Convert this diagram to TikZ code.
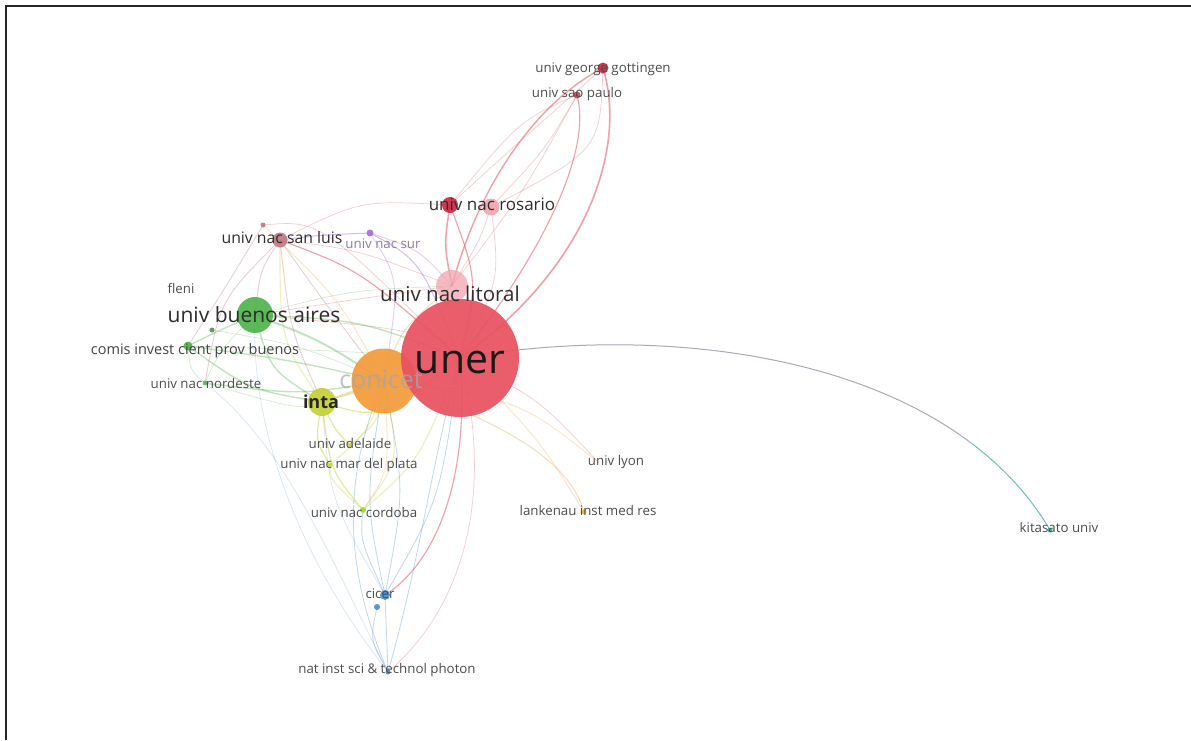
\documentclass[tikz,border=0pt]{standalone}
\usepackage{fontspec}
\setmainfont{Open Sans}
\definecolor{cred}{RGB}{232,82,95}
\definecolor{cdred}{RGB}{205,35,60}
\definecolor{cpink}{RGB}{242,165,175}
\definecolor{cgreen}{RGB}{76,178,72}
\definecolor{cyel}{RGB}{196,208,50}
\definecolor{corange}{RGB}{244,155,58}
\definecolor{cblue}{RGB}{70,140,210}
\definecolor{cpurple}{RGB}{165,110,215}
\definecolor{cteal}{RGB}{60,170,160}
\definecolor{cgray}{RGB}{150,145,170}
\definecolor{cbrown}{RGB}{190,120,130}
\definecolor{labc}{RGB}{45,45,45}
\tikzset{
  lbl/.style={anchor=base, inner sep=0pt, text=labc},
  small/.style={lbl, font=\fontsize{13.3}{14}\selectfont, text=labc!85},
  dot/.style={circle, inner sep=0pt, draw=none},
  ered/.style={draw=cred, draw opacity=0.55, line width=1.1pt},
  ered2/.style={draw=cred, draw opacity=0.3, line width=0.7pt},
  egreen/.style={draw=cgreen, draw opacity=0.35, line width=1.4pt},
  egreen2/.style={draw=cgreen, draw opacity=0.25, line width=0.7pt},
  eyel/.style={draw=cyel, draw opacity=0.45, line width=1.2pt},
  eorange/.style={draw=corange, draw opacity=0.35, line width=1pt},
  eblue/.style={draw=cblue, draw opacity=0.35, line width=0.8pt},
  epurple/.style={draw=cpurple, draw opacity=0.45, line width=1pt},
  ebrown/.style={draw=cbrown, draw opacity=0.35, line width=0.9pt},
}
\begin{document}
\begin{tikzpicture}[x=1pt,y=-1pt]
\useasboundingbox (0,0) rectangle (1191,740);
\fill[white] (0,0) rectangle (1191,740);
% frame
\draw[line width=2pt, black!85] (6,740) -- (6,6) -- (1191,6);

% coordinates
\coordinate (uner) at (460,358);
\coordinate (conicet) at (384,381);
\coordinate (litoral) at (452,286);
\coordinate (ba) at (255,315);
\coordinate (inta) at (322,402);
\coordinate (rosA) at (450,205);
\coordinate (rosB) at (491,207);
\coordinate (sanluis) at (280,240);
\coordinate (sanluisb) at (263,225);
\coordinate (nacsur) at (370,233);
\coordinate (gott) at (603,68);
\coordinate (sao) at (577,95);
\coordinate (comis) at (188,346);
\coordinate (comisb) at (212,330);
\coordinate (nordeste) at (205,383);
\coordinate (adelaide) at (350,445);
\coordinate (mdp) at (330,465);
\coordinate (cordoba) at (363,510);
\coordinate (cicer) at (385,595);
\coordinate (cicerb) at (377,607);
\coordinate (natinst) at (388,672);
\coordinate (lyon) at (598,462);
\coordinate (lankenau) at (584,512);
\coordinate (kitasato) at (1050,530);
\coordinate (kitmid) at (971.4,443.2);

% ---- edges ----
% kitasato (gray part, then teal end along the same curve)
\draw[draw=cgray, draw opacity=0.8, line width=1pt] (uner) .. controls (636,327.6) and (844,347.1) .. (kitmid);
\draw[draw=cteal, draw opacity=0.75, line width=1pt] (kitmid) .. controls (1003.2,467.2) and (1030,496) .. (kitasato);
% red cluster
\draw[ered, line width=1.6pt] (uner) .. controls (585,270) and (628,150) .. (gott);
\draw[ered] (uner) .. controls (545,250) and (592,150) .. (sao);
\draw[ered, line width=1.4pt] (litoral) .. controls (480,180) and (540,100) .. (gott);
\draw[ered2] (rosA) .. controls (510,150) .. (gott);
\draw[ered2] (litoral) .. controls (525,190) .. (sao);
\draw[ered2] (rosB) .. controls (545,150) .. (sao);
\draw[ered2] (rosA) .. controls (520,120) .. (sao);
\draw[ered2] (rosB) .. controls (600,150) .. (gott);
\draw[ered, line width=1.5pt] (litoral) .. controls (444,245) .. (rosA);
\draw[ered] (uner) .. controls (478,280) .. (rosA);
\draw[ered2] (uner) .. controls (500,280) .. (rosB);
\draw[ered2] (litoral) .. controls (480,240) .. (rosB);
\draw[ered] (uner) .. controls (360,270) .. (sanluis);
\draw[ered2] (sanluis) .. controls (360,200) .. (rosA);
\draw[ered2] (litoral) .. controls (360,250) .. (sanluis);
\draw[ered2] (sanluisb) .. controls (320,220) .. (uner);
\draw[ered] (uner) .. controls (470,470) and (440,560) .. (cicer);
\draw[ered2] (uner) .. controls (492,480) and (472,600) .. (natinst);
\draw[ered2] (uner) .. controls (540,400) .. (lyon);
\draw[ered2] (uner) .. controls (420,330) .. (ba);
\draw[ered2] (litoral) .. controls (350,300) .. (ba);
\draw[ered2] (uner) .. controls (400,380) .. (inta);
% purple
\draw[epurple] (nacsur) .. controls (420,260) .. (uner);
\draw[epurple] (nacsur) .. controls (320,235) .. (sanluis);
\draw[epurple, draw opacity=0.3] (nacsur) .. controls (400,280) .. (conicet);
\draw[epurple, draw opacity=0.3] (nacsur) .. controls (420,250) .. (litoral);
% brown (san luis)
\draw[ebrown] (sanluis) .. controls (260,270) .. (ba);
\draw[ebrown] (sanluis) .. controls (330,310) .. (conicet);
\draw[ebrown] (sanluis) .. controls (290,330) .. (inta);
\draw[ebrown] (sanluisb) .. controls (230,280) .. (comis);
\draw[ebrown] (sanluis) .. controls (220,300) .. (nordeste);
% green
\draw[egreen, line width=2pt] (ba) .. controls (320,340) .. (conicet);
\draw[egreen] (ba) .. controls (360,320) .. (uner);
\draw[egreen] (ba) .. controls (270,370) .. (inta);
\draw[egreen] (ba) .. controls (220,330) .. (comis);
\draw[egreen2] (ba) .. controls (220,350) .. (nordeste);
\draw[egreen] (comis) .. controls (290,360) .. (conicet);
\draw[egreen2] (comis) .. controls (320,350) .. (uner);
\draw[egreen] (comis) .. controls (250,390) .. (inta);
\draw[egreen2] (comisb) .. controls (300,345) .. (conicet);
\draw[egreen] (nordeste) .. controls (300,395) .. (conicet);
\draw[egreen2] (nordeste) .. controls (300,410) .. (inta);
\draw[egreen2] (comis) .. controls (190,370) .. (nordeste);
\draw[egreen2] (ba) .. controls (350,290) .. (litoral);
% yellow
\draw[eyel, line width=2pt] (inta) -- (conicet);
\draw[eyel] (inta) .. controls (380,420) .. (uner);
\draw[eyel] (inta) .. controls (330,470) .. (cordoba);
\draw[eyel] (inta) .. controls (335,430) .. (adelaide);
\draw[eyel] (inta) .. controls (315,440) .. (mdp);
\draw[eyel, draw opacity=0.3] (cordoba) .. controls (400,460) .. (conicet);
\draw[eyel, draw opacity=0.3] (mdp) .. controls (370,430) .. (conicet);
\draw[eyel, draw opacity=0.3] (adelaide) .. controls (380,420) .. (conicet);
\draw[eyel, draw opacity=0.3] (cordoba) .. controls (330,480) .. (mdp);
\draw[eyel, draw opacity=0.3] (cordoba) .. controls (420,460) .. (uner);
\draw[eyel, draw opacity=0.3] (inta) .. controls (280,340) .. (sanluis);
% orange
\draw[eorange] (conicet) .. controls (500,420) and (570,460) .. (lankenau);
\draw[eorange, draw opacity=0.25] (conicet) .. controls (520,400) .. (lyon);
\draw[eorange] (conicet) .. controls (400,330) .. (litoral);
\draw[eorange, draw opacity=0.25] (conicet) .. controls (340,300) .. (sanluisb);
\draw[eorange, draw opacity=0.25] (conicet) .. controls (390,470) .. (cordoba);
\draw[eorange, draw opacity=0.25] (uner) .. controls (540,440) .. (lankenau);
% blue
\draw[eblue] (cicer) -- (natinst);
\draw[eblue] (cicerb) .. controls (370,640) .. (natinst);
\draw[eblue] (cicer) .. controls (365,500) .. (conicet);
\draw[eblue] (cicer) .. controls (405,490) .. (conicet);
\draw[eblue] (cicer) .. controls (440,500) .. (uner);
\draw[eblue] (cicer) .. controls (360,540) .. (cordoba);
\draw[eblue] (natinst) .. controls (340,560) and (345,470) .. (conicet);
\draw[eblue] (natinst) .. controls (420,560) and (430,470) .. (uner);
\draw[eblue, draw opacity=0.2] (natinst) .. controls (300,560) and (250,430) .. (ba);
\draw[eblue, draw opacity=0.2] (natinst) .. controls (330,560) and (290,450) .. (nordeste);
\draw[eblue, draw opacity=0.2] (cicer) .. controls (330,500) .. (inta);

% ---- nodes ----
\node[dot, fill=cpink, fill opacity=0.75, minimum size=32pt] (litoralN) at (litoral) {};
\node[dot, fill=corange, fill opacity=0.92, minimum size=65pt] (conicetN) at (conicet) {};
\node[dot, fill=cred, fill opacity=0.93, minimum size=118pt] (unerN) at (uner) {};
\node[dot, fill=cgreen, fill opacity=0.9, minimum size=36pt] (baN) at (ba) {};
\node[dot, fill=cyel, fill opacity=0.9, minimum size=28pt] (intaN) at (inta) {};
\node[dot, fill=cdred, fill opacity=0.9, minimum size=16pt] (rosAN) at (rosA) {};
\node[dot, fill=cpink, fill opacity=0.9, minimum size=17pt] (rosBN) at (rosB) {};
\node[dot, fill=cbrown, fill opacity=0.9, minimum size=15pt] (sanluisN) at (sanluis) {};
\node[dot, fill=cbrown, fill opacity=0.9, minimum size=5pt] (sanluisbN) at (sanluisb) {};
\node[dot, fill=cpurple, fill opacity=0.9, minimum size=7pt] (nacsurN) at (nacsur) {};
\node[dot, fill=cdred, fill opacity=0.9, minimum size=11pt] (gottN) at (gott) {};
\node[dot, fill=cdred, fill opacity=0.8, minimum size=7pt] (saoN) at (sao) {};
\node[dot, fill=cgreen, fill opacity=0.9, minimum size=9pt] (comisN) at (comis) {};
\node[dot, fill=cgreen!60!black, fill opacity=0.7, minimum size=5pt] (comisbN) at (comisb) {};
\node[dot, fill=cgreen, fill opacity=0.8, minimum size=5pt] (nordesteN) at (nordeste) {};
\node[dot, fill=cyel, fill opacity=0.8, minimum size=5pt] (adelaideN) at (adelaide) {};
\node[dot, fill=cyel, fill opacity=0.8, minimum size=5pt] (mdpN) at (mdp) {};
\node[dot, fill=cyel!80!green, fill opacity=0.9, minimum size=6pt] (cordobaN) at (cordoba) {};
\node[dot, fill=cblue, fill opacity=0.9, minimum size=10pt] (cicerN) at (cicer) {};
\node[dot, fill=cblue, fill opacity=0.9, minimum size=6pt] (cicerbN) at (cicerb) {};
\node[dot, fill=cblue, fill opacity=0.9, minimum size=5pt] (natinstN) at (natinst) {};
\node[dot, fill=corange!80!yellow, fill opacity=0.9, minimum size=5pt] (lankenauN) at (lankenau) {};
\node[dot, fill=cteal, fill opacity=0.9, minimum size=5pt] (kitasatoN) at (kitasato) {};

% ---- labels ----
\node[lbl, font=\fontsize{25}{26}\selectfont, text=cblue!30!gray!70, text opacity=0.7] (conicetL) at (381,388) {conicet};
\node[lbl, font=\fontsize{41}{42}\selectfont, text=black!90] (unerL) at (460,373) {uner};
\node[lbl, font=\fontsize{20.5}{21}\selectfont] (litoralL) at (450,301) {univ nac litoral};
\node[lbl, font=\fontsize{21}{22}\selectfont] (baL) at (254,322) {univ buenos aires};
\node[lbl, font=\fontsize{18}{19}\selectfont\bfseries, text=black!85] (intaL) at (321,408) {inta};
\node[lbl, font=\fontsize{17}{18}\selectfont] (rosL) at (492,210) {univ nac rosario};
\node[lbl, font=\fontsize{15.8}{17}\selectfont] (sanluisL) at (282,243) {univ nac san luis};
\node[small, text=cpurple!40!gray] (nacsurL) at (383,248) {univ nac sur};
\node[small] (fleniL) at (181,293) {fleni};
\node[lbl, font=\fontsize{14.5}{15}\selectfont, text=labc!90] (comisL) at (195,354) {comis invest cient prov buenos};
\node[small] (nordesteL) at (206,388) {univ nac nordeste};
\node[small] (adelaideL) at (350,448) {univ adelaide};
\node[small] (mdpL) at (349,468) {univ nac mar del plata};
\node[small] (cordobaL) at (364,517) {univ nac cordoba};
\node[small] (gottL) at (603,72) {univ george gottingen};
\node[small] (saoL) at (577,97) {univ sao paulo};
\node[small] (cicerL) at (380,598) {cicer};
\node[small] (natinstL) at (387,673) {nat inst sci \& technol photon};
\node[small] (lyonL) at (616,465) {univ lyon};
\node[small] (lankenauL) at (588,515) {lankenau inst med res};
\node[small] (kitasatoL) at (1059,532) {kitasato univ};
\end{tikzpicture}
\end{document}
